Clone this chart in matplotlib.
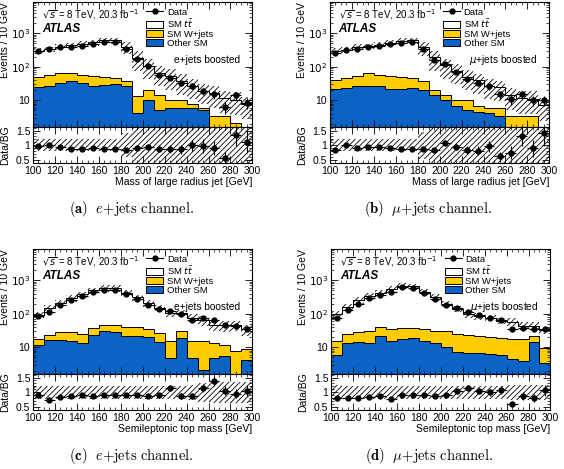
import numpy as np
import matplotlib.pyplot as plt
from matplotlib.lines import Line2D
from matplotlib.patches import Patch
from matplotlib.ticker import FixedLocator, FixedFormatter, MultipleLocator, NullFormatter, LogLocator

plt.rcParams['font.family'] = ['Liberation Sans', 'DejaVu Sans']
plt.rcParams['hatch.linewidth'] = 0.6

edges = np.arange(100, 310, 10)
centers = edges[:-1] + 5

# (a) e+jets, mass of large radius jet
data_a = [290, 340, 380, 380, 425, 480, 535, 535, 340, 165, 103, 58, 46, 32, 27, 19, 15, 6.4, 14, 8.5]
total_a = [300, 333, 400, 437, 483, 527, 615, 608, 400, 183, 108, 66, 52, 37, 27, 19.4, 16.3, 11.6, 10.4, 7.7]
wstack_a = [50, 58, 64, 64, 58, 54, 50, 46, 38, 13, 20, 14, 10, 10, 8, 6, 3.3, 3.3, 2.1, 0.1]
other_a = [24.5, 27, 33, 37, 33, 27, 29, 31, 26, 4.1, 10, 5.1, 5.7, 5.7, 5.7, 5, 0.1, 0.1, 0.1, 0.1]
unc_a = [0.2, 0.2, 0.2, 0.2, 0.2, 0.2, 0.2, 0.2, 0.4, 0.6, 0.6, 0.6, 0.6, 0.6, 0.6, 0.6, 0.65, 0.65, 0.65, 0.65]

# (b) mu+jets, mass of large radius jet
data_b = [258, 325, 345, 380, 425, 480, 510, 535, 340, 158, 118, 70, 43, 32, 26, 15, 10.7, 15, 10, 10]
total_b = [303, 325, 383, 409, 447, 522, 586, 608, 386, 190, 109, 74, 51, 39, 27, 24, 14.3, 11.5, 11.1, 7]
wstack_b = [41, 45, 54, 63, 58, 54, 48, 45, 38, 20, 14, 10, 10, 6.7, 5.7, 5.7, 3.5, 3.3, 3.3, 0.1]
other_b = [22, 23.5, 26, 27.5, 26, 22, 22, 23.5, 20, 14.6, 10, 6.6, 5.3, 4.5, 4.1, 3.3, 0.1, 0.1, 0.1, 0.1]
unc_b = [0.2, 0.2, 0.2, 0.2, 0.2, 0.2, 0.2, 0.2, 0.45, 0.6, 0.6, 0.6, 0.6, 0.6, 0.6, 0.6, 0.65, 0.65, 0.65, 0.65]

# (c) e+jets, semileptonic top mass
data_c = [85, 113, 178, 253, 345, 435, 520, 520, 385, 282, 183, 135, 120, 95, 67, 75, 63, 47, 44, 36]
total_c = [94, 150, 214, 290, 375, 494, 578, 578, 428, 306, 208, 150, 104, 108, 77, 65, 46, 45, 46, 34]
wstack_c = [18, 23.6, 28, 28, 25, 38, 45, 45, 40, 39, 35, 26.5, 15.5, 30, 15.5, 15.5, 13.8, 11.7, 7.7, 8.9]
other_c = [11.7, 16, 16, 15.5, 13.2, 22.5, 30, 28, 22, 22, 19.6, 14.2, 4.9, 18.7, 4.9, 2.06, 4.9, 5.6, 1.0, 4.1]
unc_c = [0.22, 0.22, 0.22, 0.22, 0.22, 0.22, 0.22, 0.22, 0.22, 0.22, 0.22, 0.22, 0.22, 0.22, 0.25, 0.32, 0.35, 0.35, 0.35, 0.35]

# (d) mu+jets, semileptonic top mass
data_d = [76, 126, 200, 285, 360, 435, 615, 585, 405, 270, 183, 145, 113, 89, 76, 67, 35, 38, 35, 35]
total_d = [95, 158, 250, 335, 409, 558, 683, 650, 450, 307, 199, 141, 98, 85, 76, 62, 58, 44, 44, 33]
wstack_d = [15.5, 25, 28, 30, 39, 35, 38, 38, 35, 30, 30, 25, 23.6, 22, 20, 18.7, 17.5, 17.5, 21, 9.8]
other_d = [5.9, 13.2, 14.2, 13.2, 22, 15.5, 17.5, 18.7, 15.5, 13.2, 10.5, 7.4, 6.9, 6.6, 6.3, 5.9, 4.6, 3.8, 14.2, 3.3]
unc_d = [0.25, 0.22, 0.22, 0.22, 0.22, 0.22, 0.22, 0.22, 0.22, 0.22, 0.22, 0.22, 0.22, 0.22, 0.22, 0.22, 0.25, 0.25, 0.25, 0.25]

yellow = '#ffcc00'
blue = '#0b63c5'
hatch = '//////'


def style_axis(ax):
    ax.tick_params(which='both', direction='in', top=True, right=True, labelsize=7.5, pad=2)
    ax.tick_params(which='major', length=5, width=0.6)
    ax.tick_params(which='minor', length=2.5, width=0.5)
    for s in ax.spines.values():
        s.set_linewidth(0.8)


def draw_panel(fig, left, bottom, data, total, wstack, other, unc, xlabel, channel, caption):
    width = 0.389
    ax = fig.add_axes([left, bottom + 0.0768, width, 0.2665])
    axr = fig.add_axes([left, bottom, width, 0.0768])
    data = np.array(data, dtype=float)
    total = np.array(total, dtype=float)
    unc = np.array(unc, dtype=float)
    floor = 0.01

    ax.stairs(total, edges, baseline=floor, fill=True, facecolor='white')
    ax.stairs(wstack, edges, baseline=floor, fill=True, facecolor=yellow)
    ax.stairs(other, edges, baseline=floor, fill=True, facecolor=blue)
    for lev in (total, wstack, other):
        ax.stairs(lev, edges, color='black', lw=0.7)
    ax.stairs(total * (1 + unc), edges, baseline=total * (1 - unc), fill=True,
              facecolor='none', edgecolor='black', lw=0, hatch=hatch)
    ax.errorbar(centers, data, xerr=5, yerr=np.sqrt(data), fmt='o', color='black',
                ms=3.5, elinewidth=0.8, capsize=0)

    ax.set_yscale('log')
    ax.set_xlim(100, 300)
    ax.set_ylim(1.6, 8500)
    ax.yaxis.set_major_locator(FixedLocator([10, 100, 1000]))
    ax.yaxis.set_major_formatter(FixedFormatter(['10', '$10^2$', '$10^3$']))
    ax.yaxis.set_minor_locator(LogLocator(base=10, subs=np.arange(2, 10)))
    ax.yaxis.set_minor_formatter(NullFormatter())
    ax.xaxis.set_major_locator(MultipleLocator(20))
    ax.xaxis.set_minor_locator(MultipleLocator(5))
    ax.set_xticklabels([])
    style_axis(ax)
    ax.set_ylabel('Events / 10 GeV', fontsize=7.5, loc='top')
    ax.yaxis.set_label_coords(-0.105, 1.0)

    ax.text(0.04, 0.90, r'$\sqrt{s}$ = 8 TeV, 20.3 fb$^{-1}$', transform=ax.transAxes,
            fontsize=7, va='center')
    ax.text(0.04, 0.785, 'ATLAS', transform=ax.transAxes, fontsize=8.5, fontweight='bold',
            style='italic', va='center')
    ax.text(0.945, 0.535, channel, transform=ax.transAxes, fontsize=7.3, ha='right', va='center')

    handles = [
        Line2D([0], [0], color='black', marker='o', ms=3.5, lw=0.8),
        Patch(facecolor='white', edgecolor='black', lw=0.7),
        Patch(facecolor=yellow, edgecolor='black', lw=0.7),
        Patch(facecolor=blue, edgecolor='black', lw=0.7),
    ]
    labels = ['Data', r'SM $t\bar{t}$', 'SM W+jets', 'Other SM']
    ax.legend(handles, labels, loc='upper left', bbox_to_anchor=(0.5, 0.985), frameon=False,
              fontsize=6.8, handlelength=1.8, handleheight=0.7, labelspacing=0.0,
              handletextpad=0.35, borderaxespad=0.2, borderpad=0.2)

    ratio = data / total
    axr.stairs(1 + unc, edges, baseline=1 - unc, fill=True, facecolor='none',
               edgecolor='black', lw=0, hatch=hatch)
    axr.errorbar(centers, ratio, xerr=5, yerr=np.sqrt(data) / total, fmt='o', color='black',
                 ms=3.5, elinewidth=0.8, capsize=0)
    axr.set_xlim(100, 300)
    axr.set_ylim(0.4, 1.62)
    axr.yaxis.set_major_locator(FixedLocator([0.5, 1.0, 1.5]))
    axr.yaxis.set_major_formatter(FixedFormatter(['0.5', '1', '1.5']))
    axr.yaxis.set_minor_locator(MultipleLocator(0.1))
    axr.xaxis.set_major_locator(MultipleLocator(20))
    axr.xaxis.set_minor_locator(MultipleLocator(5))
    style_axis(axr)
    axr.set_ylabel('Data/BG', fontsize=7.5)
    axr.yaxis.set_label_coords(-0.105, 0.5)
    axr.set_xlabel(xlabel, fontsize=7.5, loc='right', labelpad=1)

    fig.text(left + width / 2 - 0.02, bottom - 0.099, caption, fontsize=10.5, ha='center', va='center',
             family='DejaVu Serif', math_fontfamily='cm')


fig = plt.figure(figsize=(5.64, 4.69), dpi=100)

draw_panel(fig, 0.0585, 0.6525, data_a, total_a, wstack_a, other_a, unc_a,
           'Mass of large radius jet [GeV]', 'e+jets boosted', r'$\mathbf{(a)}\ \ e\mathrm{+jets\ channel.}$')
draw_panel(fig, 0.585, 0.6525, data_b, total_b, wstack_b, other_b, unc_b,
           'Mass of large radius jet [GeV]', r'$\mu$+jets boosted', r'$\mathbf{(b)}\ \ \mu\mathrm{+jets\ channel.}$')
draw_panel(fig, 0.0585, 0.1258, data_c, total_c, wstack_c, other_c, unc_c,
           'Semileptonic top mass [GeV]', 'e+jets boosted', r'$\mathbf{(c)}\ \ e\mathrm{+jets\ channel.}$')
draw_panel(fig, 0.587, 0.1258, data_d, total_d, wstack_d, other_d, unc_d,
           'Semileptonic top mass [GeV]', r'$\mu$+jets boosted', r'$\mathbf{(d)}\ \ \mu\mathrm{+jets\ channel.}$')

fig.savefig('out.png', dpi=100)
